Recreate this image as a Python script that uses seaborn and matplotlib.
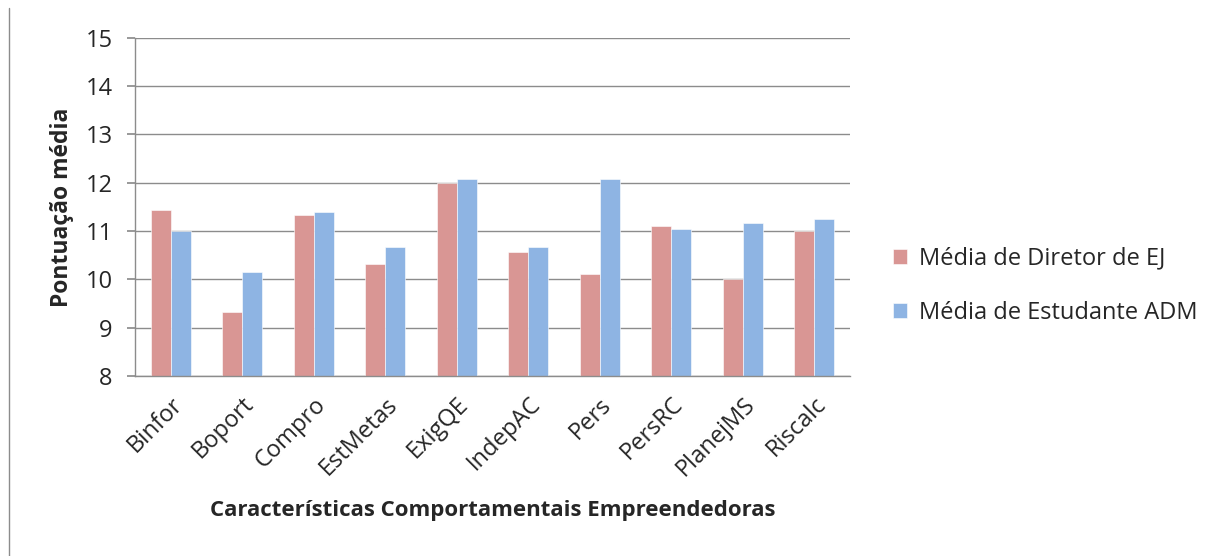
import matplotlib
matplotlib.use("Agg")
import matplotlib.pyplot as plt
import seaborn as sns
import pandas as pd
from matplotlib.lines import Line2D

categories = ["Binfor", "Boport", "Compro", "EstMetas", "ExigQE", "IndepAC", "Pers", "PersRC", "PlanejMS", "Riscalc"]
diretor = [11.43, 9.32, 11.33, 10.31, 12.0, 10.56, 10.10, 11.11, 10.0, 11.0]
estudante = [11.0, 10.16, 11.40, 10.66, 12.07, 10.66, 12.07, 11.05, 11.17, 11.24]
series_names = ["Média de Diretor de EJ", "Média de Estudante ADM"]
colors = ["#D99694", "#8EB4E3"]

df = pd.DataFrame({
    "cat": categories * 2,
    "val": diretor + estudante,
    "serie": [series_names[0]] * len(categories) + [series_names[1]] * len(categories),
})

sns.set_theme(style="white")
plt.rcParams["font.family"] = ["Open Sans", "DejaVu Sans"]

fig = plt.figure(figsize=(12.16, 5.56), dpi=100)
ax = fig.add_axes([0.111, 0.324, 0.588, 0.608])

sns.barplot(data=df, x="cat", y="val", hue="serie", palette=colors, width=0.56,
            ax=ax, edgecolor="white", linewidth=0.4, saturation=1)

ax.set_ylim(8, 15)
ax.set_xlim(-0.5, len(categories) - 0.5)
ax.set_yticks(range(8, 16))
ax.yaxis.grid(True, color="#8c8c8c", linewidth=1.0)
ax.set_axisbelow(True)
for s in ["top", "right"]:
    ax.spines[s].set_visible(False)
for s in ["left", "bottom"]:
    ax.spines[s].set_color("#8c8c8c")
    ax.spines[s].set_linewidth(1.0)
ax.tick_params(axis="y", which="both", left=True, length=6, color="#8c8c8c", labelsize=17, pad=10)
ax.tick_params(axis="x", bottom=False, labelsize=17, pad=6)
plt.setp(ax.get_xticklabels(), rotation=45, ha="right", rotation_mode="anchor")

ax.set_ylabel("Pontuação média", fontsize=16.5, fontweight="bold", labelpad=8)
ax.set_xlabel("Características Comportamentais Empreendedoras", fontsize=16, fontweight="bold", labelpad=14)

ax.legend(loc="center left", bbox_to_anchor=(1.03, 0.266), frameon=False, fontsize=17,
          handlelength=0.6, handleheight=0.6, handletextpad=0.5, labelspacing=1.3)

fig.add_artist(Line2D([0.007, 0.007], [0.0, 0.985], color="#8c8c8c", linewidth=1.0))

fig.savefig("out.png", dpi=100, facecolor="white")
